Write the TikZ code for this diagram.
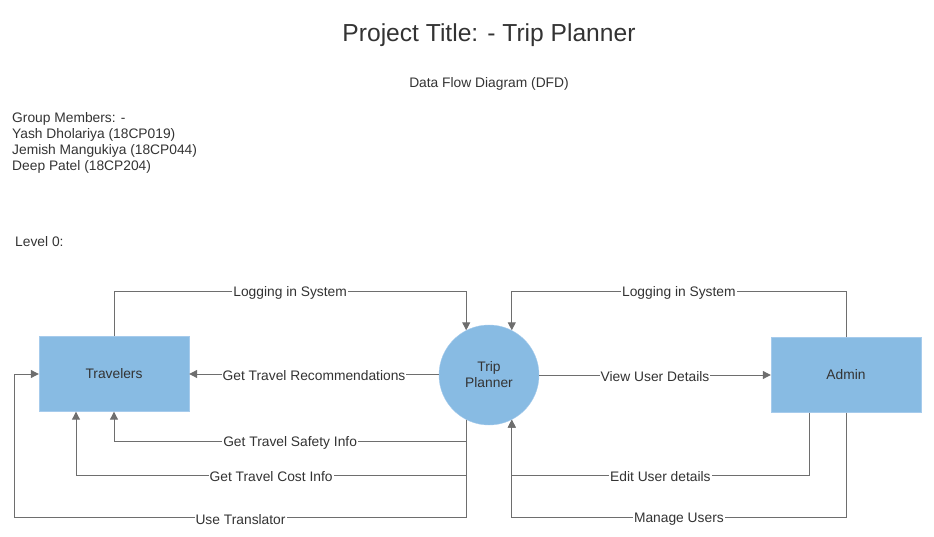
\documentclass[tikz,border=0pt]{standalone}
\usepackage{fontspec}
\setmainfont{Liberation Sans}
\usetikzlibrary{arrows.meta,positioning}
\definecolor{boxblue}{HTML}{88BBE3}
\definecolor{boxedge}{HTML}{A6CBEC}
\definecolor{linegray}{HTML}{6E6E6E}
\definecolor{txtgray}{HTML}{333333}

\begin{document}
\begin{tikzpicture}[x=1pt, y=-1pt,
    every node/.style={text=txtgray, font=\fontsize{13.8}{16}\selectfont},
    entity/.style={rectangle, fill=boxblue, draw=boxedge, minimum width=150pt, minimum height=75pt},
    process/.style={circle, fill=boxblue, draw=boxedge, minimum size=100pt, align=center, inner sep=0pt},
    flow/.style={draw=linegray, line width=1pt, -{Triangle[length=8pt, width=8pt]}},
    lbl/.style={fill=white, inner sep=1pt, yshift=-1.5pt}
]
    \useasboundingbox (0,0) rectangle (934,537);

    % headings
    \node[anchor=base, font=\fontsize{24.6}{28}\selectfont] (title) at (489,42) {Project Title: - Trip Planner};
    \node[anchor=base] (dfd) at (489,88) {Data Flow Diagram (DFD)};
    \node[anchor=north west, align=left, inner sep=0pt] (members) at (12,112) {Group Members: -\\Yash Dholariya (18CP019)\\Jemish Mangukiya (18CP044)\\Deep Patel (18CP204)};
    \node[anchor=base west, inner sep=0pt] (level) at (15,247) {Level 0:};

    % entities and process
    \node[entity] (trav) at (114,374) {Travelers};
    \node[process] (trip) at (489,375) {Trip\\Planner};
    \node[entity] (admin) at (846,375) {Admin};

    % travelers side
    \draw[flow] (trav.north) -- ++(0,-44.5) -| node[lbl, pos=0.25] {Logging in System} (trip.117);
    \draw[flow] (trip.west |- trav.east) -- node[lbl] {Get Travel Recommendations} (trav.east);
    \draw[flow] (trip.243) -- ++(0,21.5) -| node[lbl, pos=0.25] {Get Travel Safety Info} (trav.south);
    \draw[flow] (trip.243) -- ++(0,55.5) -| node[lbl, pos=0.25] {Get Travel Cost Info} ([xshift=-38pt]trav.south);
    \draw[flow] (trip.243) -- ++(0,98) -| node[lbl, pos=0.25] {Use Translator} ([xshift=-24pt]trav.west) -- (trav.west);

    % admin side
    \draw[flow] (admin.north) -- ++(0,-45.5) -| node[lbl, pos=0.25] {Logging in System} (trip.63);
    \draw[flow] (trip.east) -- node[lbl] {View User Details} (admin.west);
    \draw[flow] ([xshift=-37pt]admin.south) -- ++(0,62.5) -| node[lbl, pos=0.25] {Edit User details} (trip.297);
    \draw[flow] (admin.south) -- ++(0,104.5) -| node[lbl, pos=0.25] {Manage Users} (trip.297);
\end{tikzpicture}
\end{document}
